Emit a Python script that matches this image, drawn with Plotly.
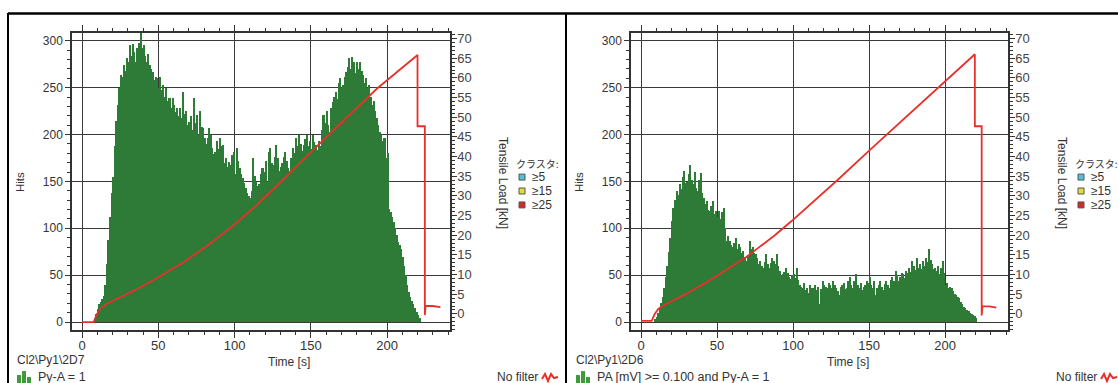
import plotly.graph_objects as go

W, H = 1118, 383

# ---------------- data ----------------
# Panel 1 (Cl2\Py1\2D7): hits per 1 s bin, first bin starts at t = 8 s
hits1_start = 8
hits1 = [
    4, 9, 14, 19, 22, 25, 28, 40, 62, 88,
    112, 138, 155, 188, 215, 232, 250, 264, 262, 274,
    268, 282, 278, 296, 284, 297, 288, 278, 292, 298,
    308, 292, 296, 284, 278, 286, 274, 270, 267, 258,
    262, 260, 250, 262, 248, 253, 240, 250, 236, 239,
    228, 239, 232, 224, 228, 220, 228, 218, 246, 222,
    225, 210, 214, 220, 205, 239, 212, 221, 200, 225,
    208, 207, 196, 190, 196, 207, 200, 186, 179, 182,
    193, 185, 196, 188, 189, 170, 175, 166, 171, 168,
    178, 182, 158, 186, 172, 164, 158, 154, 148, 143,
    138, 135, 132, 140, 175, 156, 150, 145, 147, 158,
    164, 160, 172, 150, 182, 186, 170, 168, 176, 189,
    175, 161, 166, 170, 176, 182, 172, 164, 161, 175,
    186, 180, 196, 188, 200, 190, 183, 189, 195, 200,
    188, 193, 185, 200, 192, 189, 184, 193, 188, 205,
    221, 212, 225, 210, 203, 228, 235, 240, 246, 238,
    255, 260, 250, 253, 262, 267, 272, 282, 270, 283,
    278, 266, 278, 270, 278, 268, 264, 255, 260, 250,
    253, 240, 232, 236, 225, 218, 210, 203, 200, 193,
    196, 175, 180, 121, 118, 112, 107, 100, 93, 86,
    82, 78, 70, 60, 50, 40, 32, 27, 23, 19,
    15, 11, 8, 4,
]
load1_t = [0, 7.6, 9.8, 12, 16, 23, 34, 50, 66, 82, 99, 113.7, 124, 130, 150, 172, 193.5, 220,
           220, 224.8, 224.8, 225.3, 230, 235]
load1_v = [-2.1, -2.1, 0, 1.3, 2.5, 3.8, 5.9, 9.3, 13.0, 17.3, 22.4, 27.4, 31.1, 33.4, 41.1, 49.3, 57.3, 65.8,
           47.7, 47.7, -0.3, 2.0, 2.0, 1.7]

# Panel 2 (Cl2\Py1\2D6): hits per 1 s bin, first bin starts at t = 9 s
hits2_start = 9
hits2 = [
    3, 6, 10, 14, 20, 27, 36, 48, 60, 75,
    90, 108, 122, 130, 140, 136, 147, 142, 155, 161,
    148, 150, 158, 168, 152, 147, 160, 143, 140, 152,
    159, 138, 133, 126, 129, 120, 119, 124, 129, 115,
    119, 112, 119, 110, 118, 122, 100, 87, 92, 87,
    82, 80, 85, 90, 78, 83, 80, 74, 76, 70,
    65, 72, 87, 78, 80, 74, 73, 68, 62, 65,
    60, 58, 64, 73, 62, 58, 63, 69, 65, 62,
    73, 60, 55, 50, 51, 54, 58, 52, 48, 46,
    50, 51, 47, 58, 45, 40, 38, 37, 42, 34,
    36, 31, 40, 36, 37, 40, 34, 38, 19, 35,
    44, 40, 38, 37, 42, 40, 36, 44, 40, 37,
    33, 29, 38, 40, 42, 35, 37, 44, 48, 40,
    37, 44, 51, 40, 37, 42, 34, 38, 40, 44,
    42, 48, 40, 37, 44, 29, 36, 40, 44, 38,
    34, 41, 44, 40, 37, 45, 48, 44, 55, 50,
    44, 48, 52, 51, 47, 55, 52, 58, 54, 65,
    60, 56, 69, 58, 62, 57, 65, 60, 69, 64,
    78, 66, 62, 57, 58, 55, 60, 51, 58, 65,
    52, 40, 42, 37, 38, 37, 33, 30, 29, 27,
    26, 22, 19, 16, 15, 13, 12, 10, 9, 8,
    7, 5,
]
load2_t = [0, 7, 9, 11.5, 16, 23.4, 30, 43, 50, 60, 69, 77.5, 88, 99, 110, 121, 129.4, 150, 175, 200, 219.5,
           219.5, 224, 224, 224.5, 229, 233.6]
load2_v = [-1.8, -1.8, 0, 1.3, 2.4, 3.8, 5.2, 8.0, 9.7, 12.0, 14.4, 16.9, 20.0, 23.6, 27.4, 31.2, 34.1, 41.5, 50.4, 59.3, 66.0,
           47.7, 47.7, -0.4, 1.9, 1.9, 1.6]

panel_codes = ["Cl2\\Py1\\2D7", "Cl2\\Py1\\2D6"]
panel_filters = ["Py-A = 1", "PA [mV] >= 0.100 and Py-A = 1"]
cluster_labels = ["≥5", "≥15", "≥25"]
cluster_colors = ["#4fc3d6", "#e4dc3a", "#d42a22"]

x_ticks = [0, 50, 100, 150, 200]
hits_ticks = [0, 50, 100, 150, 200, 250, 300]
load_ticks = [0, 5, 10, 15, 20, 25, 30, 35, 40, 45, 50, 55, 60, 65, 70]

GREEN = "#2e7b37"
RED = "#e8302a"
AX = "#333333"
GRID = "#3a3a3a"
FONT = "Liberation Sans, Arial, sans-serif"

def px(x):
    return x / W

def py(y):
    return 1 - y / H

fig = go.Figure()
bins1 = list(range(hits1_start, hits1_start + len(hits1)))
bins2 = list(range(hits2_start, hits2_start + len(hits2)))

fig.add_trace(go.Bar(x=bins1, y=hits1, offset=0, width=1, marker=dict(color=GREEN, line_width=0),
                     xaxis="x", yaxis="y"))
fig.add_trace(go.Scatter(x=load1_t, y=load1_v, mode="lines", line=dict(color=RED, width=1.8),
                         xaxis="x", yaxis="y2"))
fig.add_trace(go.Bar(x=bins2, y=hits2, offset=0, width=1, marker=dict(color=GREEN, line_width=0),
                     xaxis="x2", yaxis="y3"))
fig.add_trace(go.Scatter(x=load2_t, y=load2_v, mode="lines", line=dict(color=RED, width=1.8),
                         xaxis="x2", yaxis="y4"))

def xaxis_cfg(dom, anchor):
    return dict(domain=dom, anchor=anchor, range=[-6.6, 241.3], tickvals=x_ticks,
                ticks="outside", ticklen=6, tickwidth=1, tickcolor=AX, ticklabelstandoff=-4,
                showline=True, linecolor=AX, linewidth=1.5, mirror="ticks",
                showgrid=True, gridcolor=GRID, gridwidth=1.3, zeroline=False,
                minor=dict(dtick=10, tick0=0, ticks="outside", ticklen=3, tickcolor=AX, showgrid=False),
                tickfont=dict(size=13, color=AX, family=FONT))

def yaxis_cfg(anchor):
    return dict(domain=[py(330), py(31)], anchor=anchor, range=[-8.8, 308.5], tickvals=hits_ticks,
                ticks="outside", ticklen=5, tickwidth=1, tickcolor=AX,
                showline=True, linecolor=AX, linewidth=1.5,
                showgrid=True, gridcolor=GRID, gridwidth=1.3,
                zeroline=True, zerolinecolor=GRID, zerolinewidth=1.3,
                minor=dict(dtick=10, tick0=0, ticks="outside", ticklen=3, tickcolor=AX, showgrid=False),
                tickfont=dict(size=12, color=AX, family=FONT))

def y2_cfg(over, anchor):
    return dict(overlaying=over, side="right", anchor=anchor, range=[-4.17, 71.45], tickvals=load_ticks,
                ticks="outside", ticklen=5, tickwidth=1, tickcolor=AX, ticklabelstandoff=-2,
                showline=True, linecolor=AX, linewidth=1.5, showgrid=False, zeroline=False,
                minor=dict(dtick=1, tick0=0, ticks="outside", ticklen=3, tickcolor=AX, showgrid=False),
                tickfont=dict(size=13, color="#444444", family=FONT))

annotations = []
shapes = []

def txt(s, x, y, size=12, xanchor="left", angle=0, font=FONT, color=AX):
    annotations.append(dict(text=s, x=px(x), y=py(y), xref="paper", yref="paper",
                            xanchor=xanchor, yanchor="middle", showarrow=False, textangle=angle,
                            font=dict(size=size, color=color, family=font)))

for i, dx in enumerate([0, 559]):
    txt("Hits", 20 + dx, 181, size=11.5, xanchor="center", angle=-90)
    txt("Time [s]", 289 + dx, 362, size=12, xanchor="center")
    txt(panel_codes[i], 15 + dx, 360, size=12)
    txt(panel_filters[i], 36 + dx, 377, size=12.5)
    txt("No filter", 540 + dx, 377, size=12, xanchor="right")
    txt("Tensile Load [kN]", 503 + dx, 182, size=12, xanchor="center", angle=90)
    txt("クラスタ:", 514 + dx, 162, size=10, font="Noto Sans CJK JP")
    for j, (lab, col) in enumerate(zip(cluster_labels, cluster_colors)):
        yc = 176 + 14 * j
        txt(lab, 530 + dx, yc, size=12)
        shapes.append(dict(type="rect", xref="paper", yref="paper",
                           x0=px(519 + dx), x1=px(525 + dx), y0=py(yc + 3), y1=py(yc - 3),
                           fillcolor=col, line=dict(color="#555555", width=1)))
    # green bar icon
    for (a, b, top) in [(17, 21, 375), (22, 26, 371), (27, 31, 377)]:
        shapes.append(dict(type="rect", xref="paper", yref="paper",
                           x0=px(a + dx), x1=px(b + dx), y0=py(383), y1=py(top),
                           fillcolor="#3f9a3c", line=dict(width=0)))
    # red squiggle icon
    pts = [(542, 379), (545, 374), (548, 381), (551, 374), (554, 378), (558, 377)]
    path = "M " + " L ".join(f"{px(a + dx):.5f},{py(b):.5f}" for a, b in pts)
    shapes.append(dict(type="path", xref="paper", yref="paper", path=path,
                       line=dict(color=RED, width=2)))

# panel frames
shapes.append(dict(type="line", xref="paper", yref="paper", x0=px(8), x1=1, y0=py(11.5), y1=py(11.5),
                   line=dict(color="#000000", width=2.5)))
shapes.append(dict(type="line", xref="paper", yref="paper", x0=px(8), x1=px(8), y0=py(11), y1=0,
                   line=dict(color="#000000", width=2)))
shapes.append(dict(type="line", xref="paper", yref="paper", x0=px(566), x1=px(566), y0=py(11), y1=0,
                   line=dict(color="#000000", width=2)))

fig.update_layout(
    width=W, height=H, margin=dict(l=0, r=0, t=0, b=0),
    paper_bgcolor="white", plot_bgcolor="white",
    showlegend=False, bargap=0,
    font=dict(family=FONT, color=AX),
    xaxis=xaxis_cfg([px(72), px(450)], "y"),
    yaxis=yaxis_cfg("x"),
    yaxis2=y2_cfg("y", "x"),
    xaxis2=xaxis_cfg([px(631), px(1008)], "y3"),
    yaxis3=yaxis_cfg("x2"),
    yaxis4=y2_cfg("y3", "x2"),
    annotations=annotations,
    shapes=shapes,
)

fig.write_html("out.html")
